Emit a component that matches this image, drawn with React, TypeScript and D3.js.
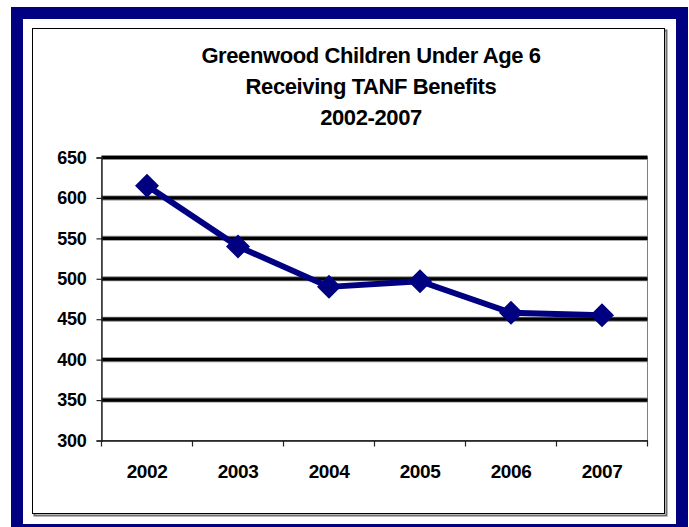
import React, { useEffect, useRef } from "react";
import * as d3 from "d3";

const years = ["2002", "2003", "2004", "2005", "2006", "2007"];
const children = [615, 540, 490, 497, 458, 455];
const yTicks = [300, 350, 400, 450, 500, 550, 600, 650];
const titleLines = ["Greenwood Children Under Age 6", "Receiving TANF Benefits", "2002-2007"];

const NAVY = "#000080";

export default function App() {
  const ref = useRef<SVGSVGElement>(null);

  useEffect(() => {
    document.body.style.margin = "0";
    if (!ref.current) return;
    const svg = d3.select(ref.current);
    svg.selectAll("*").remove();

    const width = 689;
    const height = 527;
    const plot = { left: 101.5, right: 647.5, top: 157.5, bottom: 440.5 };

    svg.append("rect").attr("width", width).attr("height", height).attr("fill", "#fff");

    // navy outer frame
    svg
      .append("rect")
      .attr("x", 17)
      .attr("y", 13)
      .attr("width", 665)
      .attr("height", 517)
      .attr("fill", "none")
      .attr("stroke", NAVY)
      .attr("stroke-width", 12);

    // chart box with shadow
    svg
      .append("rect")
      .attr("x", 34.5)
      .attr("y", 30.5)
      .attr("width", 632)
      .attr("height", 485)
      .attr("fill", "none")
      .attr("stroke", "#6e6e6e")
      .attr("stroke-width", 2);
    svg
      .append("rect")
      .attr("x", 32.5)
      .attr("y", 28.5)
      .attr("width", 632)
      .attr("height", 485)
      .attr("fill", "#fff")
      .attr("stroke", "#000")
      .attr("stroke-width", 1);

    // title
    const title = svg
      .append("text")
      .attr("text-anchor", "middle")
      .attr("font-family", "Liberation Sans, Arial, sans-serif")
      .attr("font-weight", "bold")
      .attr("font-size", 22)
      .attr("letter-spacing", "-0.4px")
      .attr("fill", "#000");
    titleLines.forEach((t, i) => {
      title
        .append("tspan")
        .attr("x", 371)
        .attr("y", 62.5 + i * 31)
        .text(t);
    });

    const x = d3.scaleBand<string>().domain(years).range([plot.left, plot.right]);
    const y = d3.scaleLinear().domain([300, 650]).range([plot.bottom, plot.top]);

    // plot area border
    svg
      .append("rect")
      .attr("x", plot.left)
      .attr("y", plot.top)
      .attr("width", plot.right - plot.left)
      .attr("height", plot.bottom - plot.top)
      .attr("fill", "none")
      .attr("stroke", "#808080")
      .attr("stroke-width", 1);

    // gridlines
    const grid = yTicks.filter((v) => v > 300);
    svg
      .append("g")
      .selectAll("line")
      .data(grid)
      .join("line")
      .attr("x1", plot.left)
      .attr("x2", plot.right)
      .attr("y1", (d) => y(d))
      .attr("y2", (d) => y(d))
      .attr("stroke", "#8a8a8a")
      .attr("stroke-width", 5);
    svg
      .append("g")
      .selectAll("line")
      .data(grid)
      .join("line")
      .attr("x1", plot.left)
      .attr("x2", plot.right)
      .attr("y1", (d) => y(d))
      .attr("y2", (d) => y(d))
      .attr("stroke", "#000")
      .attr("stroke-width", 3.2);

    // y axis
    const yAxis = svg
      .append("g")
      .attr("transform", `translate(${plot.left},0)`)
      .call(
        d3
          .axisLeft(y)
          .tickValues(yTicks)
          .tickSize(5)
          .tickPadding(10)
          .tickFormat((d) => String(d))
      );
    yAxis.select(".domain").attr("stroke", "#222").attr("stroke-width", 1.4);
    yAxis.selectAll(".tick line").attr("stroke", "#222").attr("stroke-width", 1.2);
    yAxis
      .selectAll(".tick text")
      .attr("font-family", "Liberation Sans, Arial, sans-serif")
      .attr("font-weight", "bold")
      .attr("font-size", 18)
      .attr("letter-spacing", "-0.3px")
      .attr("fill", "#000");

    // x axis
    const xAxis = svg
      .append("g")
      .attr("transform", `translate(0,${plot.bottom})`)
      .call(d3.axisBottom(x).tickSize(0).tickPadding(24));
    xAxis.select(".domain").attr("stroke", "#111").attr("stroke-width", 1.4);
    xAxis
      .selectAll(".tick text")
      .attr("font-family", "Liberation Sans, Arial, sans-serif")
      .attr("font-weight", "bold")
      .attr("font-size", 19)
      .attr("letter-spacing", "-0.4px")
      .attr("fill", "#000");

    // category boundary ticks
    const bounds = years.map((yr) => x(yr) as number).concat([plot.right]);
    svg
      .append("g")
      .selectAll("line")
      .data(bounds)
      .join("line")
      .attr("x1", (d) => d)
      .attr("x2", (d) => d)
      .attr("y1", plot.bottom)
      .attr("y2", plot.bottom + 6)
      .attr("stroke", "#222")
      .attr("stroke-width", 1.2);

    const cx = (i: number) => (x(years[i]) as number) + x.bandwidth() / 2;

    // series line
    const line = d3
      .line<number>()
      .x((_, i) => cx(i))
      .y((d) => y(d));
    svg
      .append("path")
      .datum(children)
      .attr("fill", "none")
      .attr("stroke", NAVY)
      .attr("stroke-width", 6)
      .attr("stroke-linejoin", "round")
      .attr("d", line);

    // diamond markers
    const r = 12;
    svg
      .append("g")
      .selectAll("path")
      .data(children)
      .join("path")
      .attr("d", (d, i) => {
        const px = cx(i);
        const py = y(d);
        return `M${px},${py - r}L${px + r},${py}L${px},${py + r}L${px - r},${py}Z`;
      })
      .attr("fill", NAVY);
  }, []);

  return <svg ref={ref} width={689} height={527} style={{ display: "block" }} />;
}
